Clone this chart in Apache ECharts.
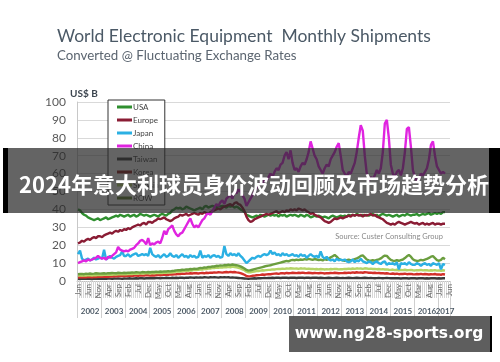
<!DOCTYPE html>
<html><head><meta charset="utf-8">
<script src="https://cdn.jsdelivr.net/npm/echarts@6/dist/echarts.min.js"></script>
<style>html,body{margin:0;padding:0;background:#fff}#c{width:500px;height:362px}</style>
</head><body><div id="c"></div>
<script>
const monthNames = ['Jan','Feb','Mar','Apr','May','Jun','Jul','Aug','Sep','Oct','Nov','Dec'];
const years = ['2002','2003','2004','2005','2006','2007','2008','2009','2010','2011','2012','2013','2014','2015','2016','2017'];
const lastYearMonths = 6;
const yTicks = [0,10,20,30,40,50,60,70,80,90,100];
const seriesNames = ['USA','Europe','Japan','China','Taiwan','Korea','SE Asia','ROW'];

const usa = [
40,39.5,38,37,36.5,35.5,35,34.5,34,34.5,35,34,
34.5,35,35.5,34.5,35,35.5,36,36.5,36,37,36.5,36,
36.5,37,36,36.5,37,36,36.5,37.5,37,36.5,37,36.5,
36,36.5,37,36.5,36,37,37.5,37,36.5,37.5,38,39.5,
40,41,40.5,41,40,40.5,41.5,41,40.5,40,39.5,40,
40.5,41,40,41.5,42,41,41.5,42,41.5,41,42,41.5,
42,41.5,41,42,41.5,42,41,41.5,41,40,39.5,38.5,
37,36.5,36,35.5,36,36.5,36,37,36.5,36,36.5,37,
36.5,37,36.5,37,36,37,36.5,37,36,36.5,37,36.5,
37,36.5,36,37,36.5,36,37,36.5,35.5,36,36.5,36,
36.5,36,35.5,36,35.5,35,36,36.5,36,35.5,36,36.5,
36,36.5,36,37,36.5,37,36.5,37.5,37,36.5,37,36.5,
37,36.5,37,37.5,36.5,37,36,37,37.5,37,36.5,37,
36.5,36,36.5,37,36,36.5,37,36.5,37.5,37,36.5,37,
37,37.5,36.5,37,37.5,37,37.5,38,37,37.5,38,37.5,
38,37.5,38.5,38.5];

const europe = [
21,21.5,22.5,22,23,23.5,23,24,24.5,24,25,25,
24.5,25.5,26,26.5,27,26.5,27.5,28,27.5,28.5,28,29,
28.5,29.5,29,30,30.5,31,31.5,31,32,32.5,31.5,33,
33,32.5,33.5,34,35,34.5,35,35.5,34.5,34,33.5,34,
35,35.5,36,37,36.5,37,37.5,36.5,37,37.5,38,37.5,
37,38,37.5,38.5,38,37.5,38.5,39,39.5,40,40.5,40,
41,41.5,42,42.5,43,42,43.5,44,43,42.5,41,39,
36,34,33,33.5,34.5,35,35.5,36,36.5,37,37.5,37,
37.5,38,38.5,39,38,38.5,39,38.5,39.5,39,40,39.5,
40,39.5,40.5,40,39.5,40,39,38.5,37.5,38,37,36.5,
36,35.5,34.5,33.5,33,32.5,33,34,35,34.5,35,35.5,
35,35.5,36,36.5,36,37,36.5,37,36.5,37,36,37,
36.5,37,37.5,36.5,37,36,35.5,35,34.5,33.5,32.5,32,
31.5,32,31.5,32.5,33,32.5,32,31.5,32,32.5,33,32.5,
32,32.5,31.5,32,32.5,31.5,32,31.5,32,32.5,31.5,32,
32,31.5,32,32];

const japan = [
15,17,12.5,11.5,12,12.5,11.5,12,13,12,12.5,13,
12.5,17.5,12,13,14,13,12.5,13.5,14,14.5,16.5,14,
14,15,13.5,14.5,15,15.5,14,14.5,15,14.5,15,14,
18.5,15,14,13.5,14.5,13,14,15,13.5,14,15.5,14,
13.5,14.5,13,14,15,13.5,14,13,14.5,13.5,14,13,
13.5,17,13,14,13.5,14.5,13,14,14.5,13.5,14,13,
13.5,19.5,15,14,15.5,14.5,15,14,15.5,14,13,11.5,
10,11,12,13,12.5,13.5,14,13.5,14.5,15,14.5,15,
17,15,16,14.5,15,14,15.5,14.5,15,14,14.5,15,
14,14.5,13.5,15,14,14.5,13,14,15,14,13.5,14,
13,16.5,13.5,12.5,13.5,12,11.5,12,11,12.5,11.5,12,
11.5,12,11,10.5,11,12,10.5,11.5,11,12.5,11,10.5,
10,11,10.5,9.5,10.5,11,10,9.5,10.5,11,9,10,
9.5,10,9,10.5,6.5,10,9.5,10,9,10.5,9.5,9,
9,10,9.5,8.5,9.5,10,9,9.5,8.5,10,9.5,9,
10,6.5,9.5,9];

const china = [
10,10.5,11,11.5,11,12,11.5,12,12.5,13,14,13,
12.5,13,12,13.5,13,14,15,16,19,17.5,17,16.5,
17,16.5,17.5,18,18.5,20,21,22.5,23,22,20.5,24,
20,21,20.5,21.5,22,21,24,28,26,29,30,31,
28,26,25,26.5,27,29,31,33,35,32,30,31,
30,32,34,35,37,38,37,39,41,43,42,44,
45,43,46,47,48,46,50,49,51,50,48,46,
42,44,46,48,50,52,53,55,54,57,56,58,
60,58,61,63,62,65,66,70,72,68,73,66,
62,63,61,64,66,65,68,72,78,74,70,68,
64,62,60,63,65,64,68,70,72,75,77,70,
62,60,58,61,60,63,66,72,80,87,84,70,
60,56,58,57,59,62,60,63,72,88,90,80,
65,60,58,61,62,59,63,72,85,86,75,62,
58,56,57,60,59,61,63,68,76,78,70,64,
62,60,61,60];

const taiwan = [
1.2,1.1,1.3,1.2,1.2,1.3,1.2,1.1,1.3,1.2,1.3,1.2,
1.2,1.3,1.2,1.4,1.3,1.2,1.4,1.3,1.4,1.3,1.2,1.4,
1.3,1.4,1.5,1.3,1.4,1.5,1.4,1.6,1.5,1.4,1.5,1.6,
1.5,1.6,1.5,1.7,1.6,1.5,1.7,1.6,1.8,1.7,1.6,1.8,
1.7,1.8,1.7,1.9,1.8,1.7,1.9,1.8,2.0,1.9,1.8,2.0,
1.9,2.0,1.9,2.1,2.0,1.9,2.1,2.0,2.1,2.0,1.9,2.1,
2.0,2.1,2.0,2.1,1.9,2.0,1.9,1.8,1.7,1.6,1.5,1.4,
1.3,1.2,1.3,1.4,1.5,1.4,1.6,1.5,1.6,1.7,1.6,1.7,
1.7,1.8,1.7,1.9,1.8,1.7,1.8,1.9,1.8,1.7,1.8,1.9,
1.8,1.7,1.8,1.9,1.8,1.7,1.9,1.8,1.7,1.8,1.9,1.8,
1.7,1.8,1.7,1.6,1.7,1.8,1.7,1.6,1.7,1.8,1.7,1.6,
1.7,1.6,1.7,1.8,1.7,1.6,1.7,1.8,1.7,1.6,1.7,1.8,
1.7,1.6,1.7,1.6,1.5,1.6,1.7,1.6,1.5,1.6,1.7,1.6,
1.5,1.6,1.5,1.6,1.5,1.4,1.5,1.6,1.5,1.4,1.5,1.6,
1.5,1.4,1.5,1.6,1.5,1.4,1.5,1.4,1.5,1.6,1.5,1.4,
1.5,1.4,1.5,1.5];

const korea = [
2.0,2.1,2.0,2.2,2.1,2.3,2.2,2.1,2.3,2.2,2.4,2.3,
2.3,2.4,2.5,2.4,2.6,2.5,2.7,2.6,2.8,2.7,2.9,2.8,
2.8,2.9,3.0,2.8,3.0,3.1,2.9,3.2,3.0,3.1,3.3,3.2,
3.0,3.2,3.1,3.3,3.4,3.2,3.5,3.4,3.6,3.5,3.7,3.6,
3.7,3.8,4.0,3.9,4.1,4.0,4.2,4.1,4.3,4.2,4.4,4.3,
4.2,4.4,4.5,4.3,4.6,4.5,4.7,4.6,4.8,4.7,4.9,4.8,
4.7,4.9,5.0,4.8,5.1,4.9,5.0,4.8,4.7,4.4,4.0,3.5,
2.8,2.6,2.7,2.9,3.0,3.2,3.3,3.4,3.6,3.5,3.7,3.8,
3.8,4.0,4.1,4.2,4.0,4.3,4.4,4.2,4.5,4.3,4.4,4.6,
4.5,4.4,4.6,4.5,4.7,4.5,4.4,4.6,4.5,4.3,4.5,4.4,
4.3,4.5,4.4,4.2,4.4,4.3,4.5,4.4,4.6,4.5,4.3,4.4,
4.4,4.6,4.5,4.7,4.5,4.8,4.6,4.9,4.7,4.8,4.6,4.9,
4.8,4.6,4.7,4.5,4.6,4.4,4.5,4.3,4.4,4.2,4.3,4.1,
4.0,4.2,3.9,4.1,3.8,4.0,3.9,4.1,3.8,3.9,4.0,3.8,
3.7,3.9,3.8,4.0,3.7,3.9,3.8,3.6,3.8,3.7,3.9,3.6,
3.7,3.5,3.8,3.6];

const seAsia = [
3.0,3.1,3.0,3.2,3.1,3.3,3.2,3.1,3.3,3.2,3.4,3.3,
3.3,3.4,3.5,3.4,3.6,3.5,3.7,3.6,3.8,3.7,3.9,3.8,
3.8,3.9,4.0,3.9,4.1,4.0,4.2,4.1,4.3,4.2,4.4,4.3,
4.2,4.4,4.3,4.5,4.4,4.6,4.5,4.7,4.6,4.8,4.7,4.9,
5.0,5.2,5.4,5.3,5.6,5.5,5.8,5.7,6.0,5.9,6.2,6.1,
6.2,6.5,6.4,6.8,6.7,7.0,6.9,7.3,7.2,7.5,7.4,7.6,
7.5,7.8,7.6,7.9,7.7,8.0,7.8,7.6,7.4,7.0,6.5,6.0,
5.2,4.8,4.9,5.1,5.3,5.5,5.6,5.8,6.0,5.9,6.1,6.2,
6.3,6.5,6.4,6.6,6.8,6.7,6.9,6.8,7.0,6.9,7.1,7.0,
6.9,7.0,6.8,7.1,6.9,7.0,6.8,6.9,6.7,6.8,6.6,6.7,
6.5,6.7,6.6,6.4,6.6,6.5,6.7,6.6,6.8,6.7,6.5,6.6,
6.6,6.8,6.7,6.9,6.7,7.0,6.8,7.1,6.9,7.0,6.8,7.1,
7.0,6.8,6.9,6.7,6.8,6.6,6.7,6.5,6.6,6.4,6.5,6.3,
6.2,6.4,6.1,6.3,6.0,6.2,6.1,6.3,6.0,6.1,6.2,6.0,
5.9,6.1,6.0,6.2,5.9,6.1,6.0,5.8,6.0,5.9,6.1,5.8,
5.9,5.7,6.0,5.8];

const row = [
3.8,3.9,4.0,3.8,4.1,4.0,4.2,4.0,4.1,4.3,4.2,4.1,
4.2,4.3,4.1,4.4,4.3,4.5,4.4,4.3,4.6,4.5,4.4,4.6,
4.5,4.7,4.6,4.8,4.7,4.9,4.8,4.7,5.0,4.9,4.8,5.0,
4.9,5.1,5.0,5.2,5.1,5.3,5.2,5.4,5.3,5.5,5.4,5.6,
5.7,5.9,6.1,6.0,6.3,6.2,6.5,6.4,6.7,6.6,6.9,6.8,
7.0,7.3,7.2,7.6,7.5,7.9,7.8,8.2,8.1,8.5,8.4,8.7,
8.6,8.9,8.8,9.1,8.9,9.2,9.0,8.8,8.6,8.2,7.6,7.0,
6.2,5.8,6.0,6.3,6.6,6.9,7.2,7.5,7.8,8.1,8.4,8.6,
8.8,9.1,9.4,9.7,10.0,10.3,10.6,10.9,11.2,11.0,11.5,11.8,
11.6,11.9,11.7,12.0,11.8,12.2,11.9,12.4,12.1,11.8,12.3,12.0,
11.7,11.9,11.5,12.2,11.8,12.5,13.2,13.8,14.5,13.6,12.4,11.8,
11.5,11.2,11.6,11.9,11.5,11.8,12.2,12.6,13.2,14.0,14.3,13.2,
12.0,11.5,11.3,11.6,11.4,11.8,12.1,12.6,13.5,14.2,14.0,12.8,
11.8,11.4,11.2,11.6,11.3,11.7,12.0,12.8,13.8,14.5,13.6,12.2,
11.5,11.2,11.4,11.8,11.5,11.9,12.3,12.9,13.6,13.9,12.8,11.7,
11.3,11.8,13.0,12.2];

const categories = [];
years.forEach((y, yi) => {
  const n = yi === years.length - 1 ? lastYearMonths : 12;
  for (let m = 0; m < n; m++) categories.push(y + '-' + monthNames[m]);
});

const colors = {
  'USA':'#2f8f2f','Europe':'#8a1c34','Japan':'#2bb0e3','China':'#e024e0',
  'Taiwan':'#3a3a3a','Korea':'#d3302a','SE Asia':'#b4d466','ROW':'#6b9e3f'
};
const legendColors = Object.assign({}, colors, {'Korea':'#8b1a1a','ROW':'#5d7d2e'});
const dataMap = {'USA':usa,'Europe':europe,'Japan':japan,'China':china,'Taiwan':taiwan,'Korea':korea,'SE Asia':seAsia,'ROW':row};
const drawOrder = ['Taiwan','Korea','SE Asia','ROW','Japan','USA','Europe','China'];

const chart = echarts.init(document.getElementById('c'), null, {renderer:'canvas'});
const font = 'Lato, "Open Sans", sans-serif';
const yearLabelIdx = (i) => (i % 12 === 6 && i < 180) || i === 183;
chart.setOption({
  animation:false,
  backgroundColor:'#ffffff',
  grid:{left:77, right:50, top:102, bottom:81, containLabel:false},
  legend:{
    data: seriesNames.map(n => ({name:n, itemStyle:{color:legendColors[n]}})),
    orient:'vertical', left:108, top:100, icon:'rect', itemWidth:15, itemHeight:3, itemGap:3,
    padding:[2,6,2,9], borderColor:'#333', borderWidth:1, backgroundColor:'#fff',
    textStyle:{fontSize:8, color:'#444', fontFamily:font, lineHeight:10, padding:[0,0,0,-4]}
  },
  xAxis:[{
    type:'category', data:categories, boundaryGap:true,
    axisLine:{lineStyle:{color:'#bfbfbf'}},
    axisTick:{show:true, interval:0, length:17, lineStyle:{color:'#d6d6d6'}},
    axisLabel:{interval:4, rotate:90, fontSize:8, color:'#6f6f6f', fontFamily:font, margin:3,
      formatter:v => v.slice(5)},
    splitLine:{show:false}
  },{
    type:'category', data:categories, boundaryGap:true, position:'bottom', offset:17,
    axisLine:{show:false},
    axisTick:{show:true, interval:(i)=> i % 12 === 0, length:20, lineStyle:{color:'#cfcfcf'}},
    axisLabel:{interval:0, hideOverlap:false, fontSize:8, fontWeight:'bold', color:'#4d5a66', fontFamily:font, margin:9,
      formatter:(v, i) => yearLabelIdx(i) ? v.slice(0,4) : ''},
    splitLine:{show:false}
  }],
  yAxis:{
    type:'value', min:yTicks[0], max:yTicks[yTicks.length-1], interval:10,
    axisLine:{show:true, lineStyle:{color:'#c8c8c8'}},
    axisTick:{show:false},
    axisLabel:{fontSize:12, color:'#595959', fontFamily:font, margin:11},
    splitLine:{lineStyle:{color:'#d9d9d9', width:1}}
  },
  series: drawOrder.map(n => ({
    name:n, type:'line', data:dataMap[n], xAxisIndex:0, showSymbol:false, symbol:'none',
    lineStyle:{width:2.4, color:colors[n]}, itemStyle:{color:colors[n]}, z:2
  })),
  graphic:[
    {type:'text', left:57, top:27, style:{text:'World Electronic Equipment  Monthly Shipments', font:'17.5px '+font, fill:'#4b5966'}},
    {type:'text', left:57, top:49, style:{text:'Converted @ Fluctuating Exchange Rates', font:'13.3px '+font, fill:'#5b6570'}},
    {type:'text', left:70, top:89, style:{text:'US$ B', font:'bold 10px '+font, fill:'#3d4650'}},
    {type:'text', right:57, top:233, style:{text:'Source: Custer Consulting Group', font:'7.5px '+font, fill:'#8a8a8a'}},
    {type:'rect', shape:{x:4, y:148, width:486, height:65}, style:{fill:'rgba(40,40,40,0.72)'}, z:100},
    {type:'rect', shape:{x:3, y:148, width:5, height:65}, style:{fill:'#000'}, z:101},
    {type:'rect', shape:{x:489, y:148, width:11, height:65}, style:{fill:'#000'}, z:101},
    {type:'text', x:254, y:185, style:{text:'2024年意大利球员身价波动回顾及市场趋势分析', font:'bold 22px "Noto Sans CJK SC", sans-serif', fill:'#fff', align:'center', verticalAlign:'middle'}, z:102},
    {type:'rect', shape:{x:289, y:316, width:201, height:36}, style:{fill:'rgba(80,80,80,0.92)'}, z:100},
    {type:'rect', shape:{x:490, y:316, width:2, height:36}, style:{fill:'#000'}, z:101},
    {type:'text', x:389, y:334, style:{text:'www.ng28-sports.org', font:'bold 15.5px "DejaVu Sans", sans-serif', fill:'#fff', align:'center', verticalAlign:'middle'}, z:102}
  ]
});
</script></body></html>
